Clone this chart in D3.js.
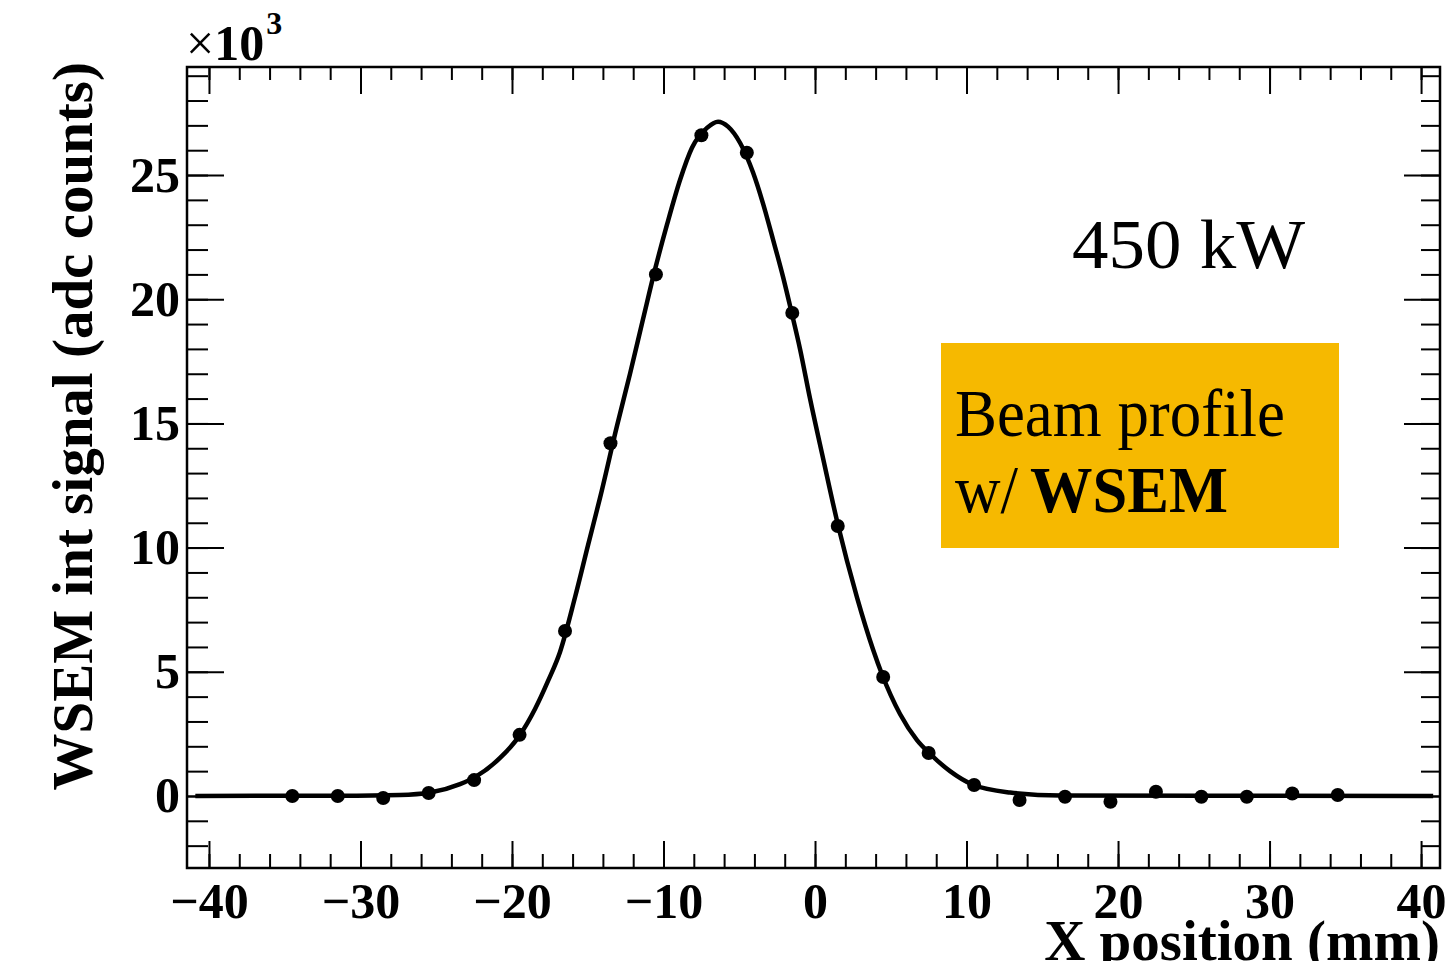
<!DOCTYPE html>
<html>
<head>
<meta charset="utf-8">
<script src="https://cdn.jsdelivr.net/npm/d3@7"></script>
<style>
  body { margin: 0; background: #fff; }
  svg { display: block; }
  text { font-family: "Liberation Serif", "Times New Roman", serif; fill: #000; }
  .axis path { display: none; }
  .axis line { stroke: #000; stroke-width: 2; }
  .axis text { font-size: 50px; font-weight: bold; }
</style>
</head>
<body>
<div id="chart"></div>
<script>
// measured wire positions (mm) and integrated signal (x10^3 adc counts)
var xPos = [-34.5, -31.5, -28.5, -25.5, -22.5, -19.5, -16.5, -13.5, -10.5, -7.5, -4.5, -1.5,
            1.5, 4.5, 7.5, 10.5, 13.5, 16.5, 19.5, 22.5, 25.5, 28.5, 31.5, 34.5];
var signal = [0.0, 0.0, -0.08, 0.12, 0.64, 2.46, 6.64, 14.2, 21.0, 26.6, 25.9, 19.45,
              10.87, 4.79, 1.73, 0.44, -0.16, -0.03, -0.23, 0.17, -0.03, -0.03, 0.1, 0.04];

// fitted curve
var fitX = [-40.9, -31.35, -27.4, -25.4, -23.43, -22.44, -20.79, -19.47, -18.48, -17.62, -16.83,
            -15.84, -14.98, -14.19, -13.07, -12.21, -11.35, -10.56, -9.77, -8.91, -8.12, -7.13,
            -6.4, -5.74, -4.95, -4.09, -3.43, -2.77, -2.11, -1.52, -0.99, -0.33, 0.53, 1.52,
            2.77, 3.83, 4.42, 5.61, 6.73, 7.59, 8.91, 10.43, 12.87, 16.2, 40.8];
var fitY = [0, 0.01, 0.04, 0.14, 0.48, 0.76, 1.53, 2.46, 3.5, 4.63, 5.8,
            8.0, 10.1, 12.0, 14.9, 17.0, 19.2, 21.2, 23.0, 24.8, 26.1, 26.9,
            27.15, 26.95, 26.3, 25.1, 23.85, 22.4, 20.9, 19.4, 18.0, 16.0, 13.6, 10.9,
            8.0, 5.9, 4.9, 3.3, 2.25, 1.7, 1.0, 0.45, 0.14, 0.02, 0];

var xMajor = [-40, -30, -20, -10, 0, 10, 20, 30, 40];
var xMinor = [-40, -38, -36, -34, -32, -30, -28, -26, -24, -22, -20, -18, -16, -14, -12, -10, -8, -6, -4, -2,
              0, 2, 4, 6, 8, 10, 12, 14, 16, 18, 20, 22, 24, 26, 28, 30, 32, 34, 36, 38, 40];
var yMajor = [0, 5, 10, 15, 20, 25];
var yMinor = [-2, -1, 0, 1, 2, 3, 4, 5, 6, 7, 8, 9, 10, 11, 12, 13, 14, 15, 16, 17, 18, 19,
              20, 21, 22, 23, 24, 25, 26, 27, 28, 29];

var frame = { left: 187, right: 1440, top: 67, bottom: 868 };

var svg = d3.select("#chart")
    .append("svg")
    .attr("width", 1449)
    .attr("height", 961);

var x = d3.scaleLinear().domain([-41.45, 41.25]).range([frame.left, frame.right]),
    y = d3.scaleLinear().domain([-2.9, 29.35]).range([frame.bottom, frame.top]);

var fmt = d3.format("d");

// ticks on all four sides, pointing inward (ROOT style)
svg.append("g").attr("class", "axis")
    .attr("transform", "translate(0," + frame.bottom + ")")
    .call(d3.axisBottom(x).tickValues(xMinor).tickSize(-14).tickFormat(""));
svg.append("g").attr("class", "axis")
    .attr("transform", "translate(0," + frame.bottom + ")")
    .call(d3.axisBottom(x).tickValues(xMajor).tickSize(-27).tickPadding(14).tickFormat(fmt));
svg.append("g").attr("class", "axis")
    .attr("transform", "translate(0," + frame.top + ")")
    .call(d3.axisTop(x).tickValues(xMinor).tickSize(-13).tickFormat(""));
svg.append("g").attr("class", "axis")
    .attr("transform", "translate(0," + frame.top + ")")
    .call(d3.axisTop(x).tickValues(xMajor).tickSize(-27).tickFormat(""));

svg.append("g").attr("class", "axis")
    .attr("transform", "translate(" + frame.left + ",0)")
    .call(d3.axisLeft(y).tickValues(yMinor).tickSize(-21).tickFormat(""));
svg.append("g").attr("class", "axis")
    .attr("transform", "translate(" + frame.left + ",0)")
    .call(d3.axisLeft(y).tickValues(yMajor).tickSize(-37).tickPadding(7).tickFormat(fmt));
svg.append("g").attr("class", "axis")
    .attr("transform", "translate(" + frame.right + ",0)")
    .call(d3.axisRight(y).tickValues(yMinor).tickSize(-19).tickFormat(""));
svg.append("g").attr("class", "axis")
    .attr("transform", "translate(" + frame.right + ",0)")
    .call(d3.axisRight(y).tickValues(yMajor).tickSize(-36).tickFormat(""));

svg.append("rect")
    .attr("x", frame.left)
    .attr("y", frame.top)
    .attr("width", frame.right - frame.left)
    .attr("height", frame.bottom - frame.top)
    .attr("fill", "none")
    .attr("stroke", "#000")
    .attr("stroke-width", 2.5);

// fit curve
var line = d3.line()
    .x(function (d, i) { return x(fitX[i]); })
    .y(function (d) { return y(d); })
    .curve(d3.curveMonotoneX);

svg.append("path")
    .datum(fitY)
    .attr("d", line)
    .attr("fill", "none")
    .attr("stroke", "#000")
    .attr("stroke-width", 4.5);

// data points
svg.selectAll(".dot")
    .data(signal)
    .enter()
    .append("circle")
    .attr("class", "dot")
    .attr("cx", function (d, i) { return x(xPos[i]); })
    .attr("cy", function (d) { return y(d); })
    .attr("r", 7)
    .attr("fill", "#000");

// axis titles
svg.append("text")
    .attr("x", frame.right)
    .attr("y", 960)
    .attr("text-anchor", "end")
    .style("font-size", "57px")
    .style("font-weight", "bold")
    .text("X position (mm)");

svg.append("text")
    .attr("transform", "translate(92,62) rotate(-90)")
    .attr("text-anchor", "end")
    .style("font-size", "57px")
    .style("font-weight", "bold")
    .text("WSEM int signal (adc counts)");

// exponent
var expo = svg.append("text")
    .attr("x", 186)
    .attr("y", 60)
    .style("font-size", "50px")
    .style("font-weight", "bold");
expo.append("tspan").style("font-weight", "normal").text("\u00d7");
expo.append("tspan").text("10");
expo.append("tspan")
    .attr("dy", -26)
    .attr("dx", 2)
    .style("font-size", "32px")
    .text("3");

// annotations
svg.append("text")
    .attr("x", 1072)
    .attr("y", 268)
    .attr("textLength", 233)
    .attr("lengthAdjust", "spacingAndGlyphs")
    .style("font-size", "70px")
    .text("450 kW");

svg.append("rect")
    .attr("x", 941)
    .attr("y", 343)
    .attr("width", 398)
    .attr("height", 205)
    .attr("fill", "#f6b900");

svg.append("text")
    .attr("x", 955)
    .attr("y", 436)
    .attr("textLength", 330)
    .attr("lengthAdjust", "spacingAndGlyphs")
    .style("font-size", "68px")
    .text("Beam profile");

svg.append("text")
    .attr("x", 955)
    .attr("y", 512)
    .attr("textLength", 63)
    .attr("lengthAdjust", "spacingAndGlyphs")
    .style("font-size", "68px")
    .text("w/");

svg.append("text")
    .attr("x", 1030)
    .attr("y", 512)
    .attr("textLength", 198)
    .attr("lengthAdjust", "spacingAndGlyphs")
    .style("font-size", "66px")
    .style("font-weight", "bold")
    .text("WSEM");
</script>
</body>
</html>
